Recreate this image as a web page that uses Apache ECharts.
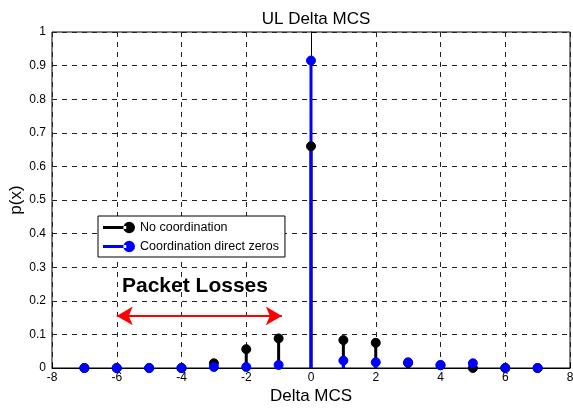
<!DOCTYPE html>
<html>
<head>
<meta charset="utf-8">
<script src="https://cdn.jsdelivr.net/npm/echarts@6/dist/echarts.min.js"></script>
<style>
  html, body { margin: 0; padding: 0; background: #fff; }
  #chart { width: 573px; height: 410px; }
</style>
</head>
<body>
<div id="chart"></div>
<script>
// Delta MCS values and their probabilities
const deltaMcs = [-7, -6, -5, -4, -3, -2, -1, 0, 1, 2, 3, 4, 5, 6, 7];
const noCoordination = [0, 0, 0, 0, 0.014, 0.056, 0.088, 0.66, 0.083, 0.075, 0.015, 0.008, 0.0, 0, 0];
const coordDirectZeros = [0, 0, 0, 0, 0.003, 0.003, 0.009, 0.915, 0.022, 0.017, 0.017, 0.009, 0.014, 0, 0];
const seriesNames = ['No coordination', 'Coordination direct zeros'];
const xTicks = [-8, -6, -4, -2, 0, 2, 4, 6, 8];
const yTicks = [0, 0.1, 0.2, 0.3, 0.4, 0.5, 0.6, 0.7, 0.8, 0.9, 1];
const lossRange = [-6, -0.9];
const lossArrowLevel = 0.155;

const FONT = '"Liberation Sans", Arial, Helvetica, sans-serif';
const BLACK = '#000000';
const BLUE = '#0000ff';

function pairs(ys) { return deltaMcs.map((x, i) => [x, ys[i]]); }

function stemSeries(name, ys, color) {
  return {
    name: name,
    type: 'custom',
    data: pairs(ys),
    itemStyle: { color: color },
    renderItem: function (params, api) {
      const top = api.coord([api.value(0), api.value(1)]);
      const base = api.coord([api.value(0), 0]);
      return {
        type: 'line',
        shape: { x1: base[0], y1: base[1], x2: top[0], y2: top[1] },
        style: { stroke: color, lineWidth: 3 }
      };
    },
    z: 3
  };
}

function markerSeries(name, ys, color, z) {
  return {
    name: name,
    type: 'scatter',
    data: pairs(ys),
    symbol: 'circle',
    symbolSize: 9,
    itemStyle: { color: color, borderColor: color, borderWidth: 1, opacity: 1 },
    z: z
  };
}

// line-with-dot legend glyph
const stemIcon = 'path://M0,9 L24,9 L24,12 L0,12 Z M21,10.5 a6,6 0 1,0 12,0 a6,6 0 1,0 -12,0 Z';

const chart = echarts.init(document.getElementById('chart'));
chart.setOption({
  animation: false,
  backgroundColor: '#ffffff',
  title: {
    text: 'UL Delta MCS',
    left: 311, top: 6, textAlign: 'center',
    textStyle: { fontFamily: FONT, fontSize: 17, fontWeight: 'normal', color: BLACK }
  },
  grid: {
    left: 52, right: 3, top: 32, bottom: 42,
    outerBoundsMode: 'none',
    containLabel: false,
    show: true, borderColor: BLACK, borderWidth: 1, backgroundColor: 'transparent'
  },
  legend: {
    left: 98, top: 216,
    orient: 'vertical',
    itemWidth: 32, itemHeight: 12, itemGap: 6,
    padding: [5, 6, 4, 5],
    backgroundColor: '#ffffff',
    borderColor: BLACK, borderWidth: 1,
    textStyle: { fontFamily: FONT, fontSize: 12.5, color: BLACK },
    data: [
      { name: seriesNames[0], icon: stemIcon, itemStyle: { color: BLACK, borderWidth: 0 } },
      { name: seriesNames[1], icon: stemIcon, itemStyle: { color: BLUE, borderWidth: 0 } }
    ]
  },
  xAxis: {
    type: 'value',
    min: xTicks[0], max: xTicks[xTicks.length - 1], interval: 2,
    name: 'Delta MCS', nameLocation: 'middle', nameGap: 20,
    nameMoveOverlap: false,
    nameTextStyle: { fontFamily: FONT, fontSize: 17, color: BLACK },
    axisLine: { show: true, onZero: false, lineStyle: { color: BLACK, width: 1 } },
    axisTick: { show: true, inside: true, length: 5, lineStyle: { color: BLACK } },
    axisLabel: { fontFamily: FONT, fontSize: 12, color: BLACK, margin: 4 },
    splitLine: { show: true, lineStyle: { color: '#222', type: [5, 5], width: 1 } }
  },
  yAxis: {
    type: 'value',
    min: yTicks[0], max: yTicks[yTicks.length - 1], interval: 0.1,
    name: 'p(x)', nameLocation: 'middle', nameGap: 27, nameRotate: 90,
    nameMoveOverlap: false,
    nameTextStyle: { fontFamily: FONT, fontSize: 17, color: BLACK },
    axisLine: { show: true, lineStyle: { color: BLACK, width: 1 } },
    axisTick: { show: true, inside: true, length: 5, lineStyle: { color: BLACK } },
    axisLabel: {
      fontFamily: FONT, fontSize: 12, color: BLACK, margin: 6,
      formatter: v => String(Math.round(v * 10) / 10)
    },
    splitLine: { show: true, lineStyle: { color: '#222', type: [5, 5], width: 1 } }
  },
  graphic: [{
    type: 'text',
    left: 122, top: 276,
    style: {
      text: 'Packet Losses',
      font: 'bold 21px ' + FONT,
      fill: BLACK
    },
    z: 10
  }],
  series: [
    stemSeries(seriesNames[0], noCoordination, BLACK),
    stemSeries(seriesNames[1], coordDirectZeros, BLUE),
    markerSeries(seriesNames[0], noCoordination, BLACK, 4),
    Object.assign(markerSeries(seriesNames[1], coordDirectZeros, BLUE, 5), {
      markLine: {
        silent: true,
        symbol: ['arrow', 'arrow'],
        symbolSize: [14, 16],
        label: { show: false },
        lineStyle: { color: '#ff0000', width: 2, type: 'solid' },
        data: [[
          { coord: [lossRange[0], lossArrowLevel] },
          { coord: [lossRange[1], lossArrowLevel] }
        ]]
      }
    })
  ]
});
</script>
</body>
</html>
